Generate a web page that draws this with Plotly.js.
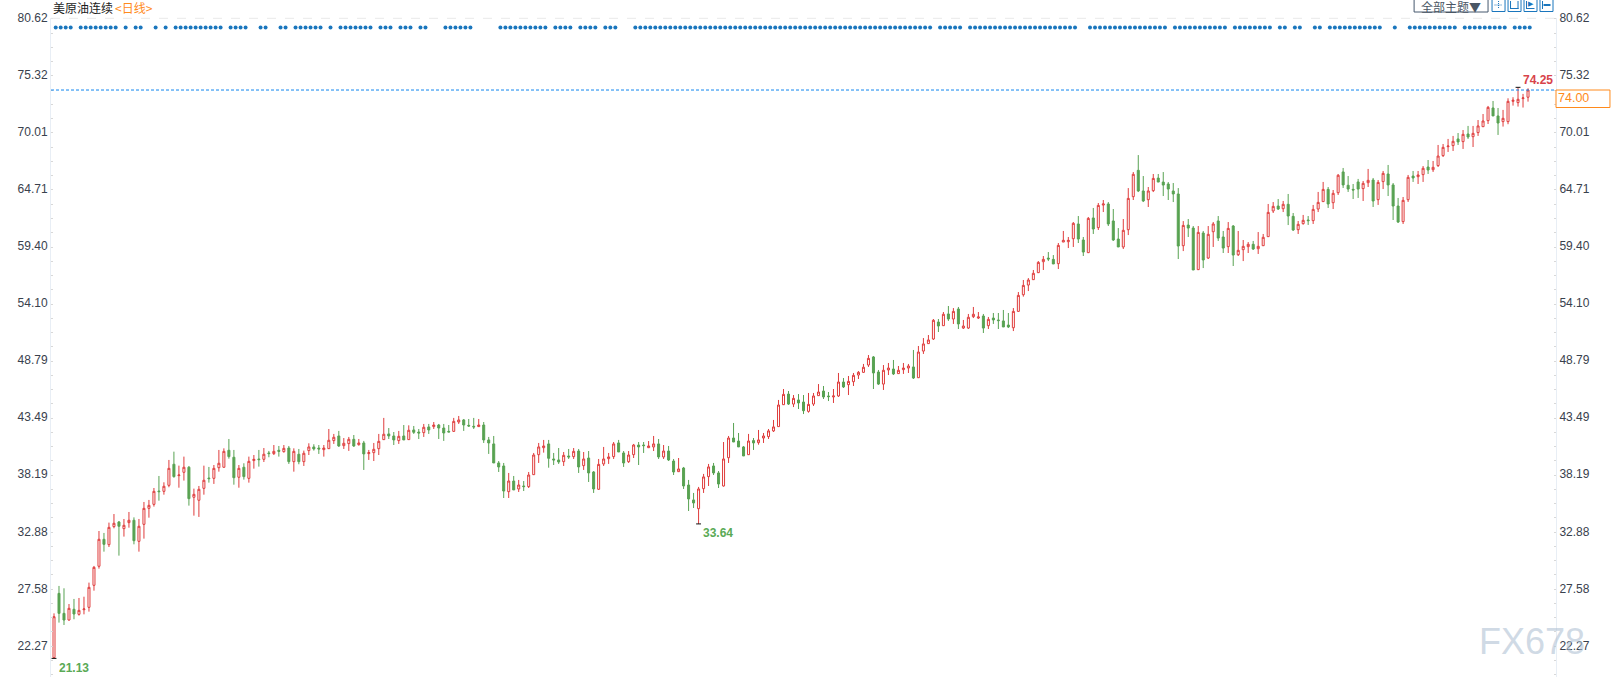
<!DOCTYPE html>
<html><head><meta charset="utf-8">
<script src="https://cdn.plot.ly/plotly-3.0.1.min.js"></script>
<style>html,body{margin:0;padding:0;background:#fff}#chart{width:1611px;height:677px}</style>
</head><body><div id="chart"></div>
<script>
const openPrices = [
21.20,27.18,25.32,24.70,25.70,25.23,25.66,25.88,27.93,29.70,
32.21,31.71,33.39,33.82,33.20,33.76,33.98,32.02,33.60,35.09,
35.46,36.70,36.67,37.23,39.19,38.13,38.44,38.91,36.12,35.84,
36.95,37.91,37.88,38.87,38.91,40.49,39.84,37.98,38.91,37.88,
39.53,39.68,39.65,40.24,40.18,40.49,40.36,40.70,39.43,40.12,
39.43,40.46,40.80,40.70,40.55,40.64,41.39,41.82,40.92,41.11,
41.51,41.01,41.17,40.18,40.27,40.64,41.48,42.01,41.82,41.39,
41.82,41.48,42.38,42.19,42.13,42.66,42.69,42.84,42.56,42.25,
42.25,43.12,43.31,42.81,42.72,42.69,42.84,41.45,41.08,39.31,
39.03,36.64,37.63,36.89,37.17,37.11,38.22,40.08,40.73,41.08,
39.68,39.59,39.43,39.96,39.90,40.42,39.06,39.77,38.47,36.86,
39.22,39.71,39.90,41.17,40.24,39.43,40.08,40.98,40.98,40.73,
40.80,41.08,39.87,40.42,39.49,38.50,38.84,37.26,35.87,35.06,
36.92,38.04,39.03,38.38,37.17,39.80,41.63,41.35,40.80,40.08,
41.39,41.20,41.63,41.76,42.29,42.69,44.73,45.72,44.79,45.17,
44.98,44.11,44.79,45.57,46.00,45.54,45.45,45.54,46.84,46.59,
46.87,47.49,47.74,48.42,49.17,47.77,46.65,47.96,48.05,47.62,
47.99,48.14,48.24,47.24,49.72,50.41,50.84,52.42,52.08,53.17,
52.70,53.63,51.86,51.86,52.92,52.79,52.98,52.08,52.79,52.61,
52.52,52.14,51.89,53.41,54.96,55.86,56.36,57.01,58.03,58.37,
58.25,57.85,59.86,59.89,60.17,61.54,60.05,58.87,62.10,61.20,
63.30,63.40,61.82,60.14,59.40,61.01,64.08,66.53,64.61,63.80,
64.64,65.81,65.44,65.26,64.61,64.33,59.52,61.44,61.16,57.29,
60.70,58.37,60.82,61.82,60.33,59.43,61.35,58.68,59.15,59.43,
59.65,59.24,59.52,60.36,62.75,63.21,62.96,63.37,62.25,61.01,
61.57,61.91,61.85,62.93,63.62,64.76,63.52,64.45,66.38,65.14,
64.76,65.45,64.83,65.38,65.63,63.80,65.48,66.19,65.17,63.21,
61.76,63.80,66.00,65.94,66.13,66.84,66.59,66.97,67.90,68.73,
68.83,69.45,69.20,69.91,69.66,70.04,70.59,71.15,72.33,71.59,
71.06,71.06,72.95,72.83,73.20,73.33];
const closePrices = [
25.01,25.32,24.70,25.79,25.26,25.60,25.73,27.74,29.60,32.21,
31.74,33.32,33.70,33.42,33.51,33.98,32.08,33.42,35.09,35.37,
36.67,36.64,37.14,38.81,38.04,38.19,38.91,35.99,36.39,36.86,
37.70,37.85,38.81,39.28,40.39,39.90,37.94,38.81,38.04,39.46,
39.65,39.62,40.12,40.18,40.39,40.39,40.67,39.43,40.39,39.43,
40.21,40.80,40.61,40.61,40.70,41.42,41.70,40.89,41.14,41.51,
40.89,41.17,40.15,40.27,40.58,41.32,41.98,41.82,41.45,41.79,
41.45,42.35,42.16,42.10,42.63,42.38,42.84,42.56,42.10,42.19,
43.18,43.31,42.84,42.75,42.66,42.84,41.45,41.17,39.31,38.94,
36.70,37.63,36.80,37.26,37.11,38.19,40.05,40.80,40.89,39.74,
39.59,39.40,40.02,39.87,40.39,38.94,39.68,38.38,36.89,39.18,
39.68,39.87,41.08,40.33,39.31,40.05,40.98,40.80,40.92,40.89,
41.08,39.87,40.42,39.59,38.47,38.75,37.17,35.96,35.59,36.89,
38.01,38.94,38.38,37.35,39.68,41.63,41.26,40.80,39.96,41.35,
41.17,41.45,41.82,42.29,42.66,44.70,45.69,44.79,45.32,44.89,
44.17,44.76,45.54,45.91,45.45,45.48,45.54,46.84,46.38,46.90,
47.46,47.74,48.21,49.04,47.68,46.65,47.93,48.14,47.59,47.93,
48.14,48.33,47.21,49.63,50.38,50.75,52.58,52.05,53.14,52.70,
53.41,52.24,52.05,52.86,53.14,52.89,51.86,52.67,52.61,52.55,
51.96,51.96,53.41,54.90,55.83,56.33,56.95,57.97,58.25,58.28,
57.82,59.55,60.02,60.02,61.60,60.14,58.93,62.06,61.07,63.27,
63.40,61.54,60.05,59.40,60.95,63.92,66.16,64.61,63.68,64.61,
65.78,65.44,65.16,64.79,64.33,59.49,61.41,61.16,57.26,60.76,
58.19,60.58,61.54,60.23,59.30,61.13,58.65,59.09,59.46,59.65,
59.21,59.46,60.30,62.62,63.18,62.93,63.37,62.28,60.98,61.51,
61.88,61.85,62.90,63.55,64.76,63.40,64.39,66.07,65.17,64.79,
64.70,64.79,65.32,65.60,63.68,65.41,66.25,65.17,63.21,61.72,
63.74,65.88,65.82,66.10,66.72,66.56,66.81,67.86,68.67,68.79,
69.23,69.17,69.88,69.63,69.97,70.66,71.12,72.39,71.59,70.93,
71.37,72.95,73.05,73.14,73.27,74.00];
const highPrices = [
25.32,27.87,27.65,26.19,26.66,26.75,26.87,28.18,29.73,32.98,
32.80,33.76,34.56,33.91,34.10,34.75,34.25,34.10,35.68,35.87,
36.98,38.10,37.51,39.59,40.36,39.06,39.90,39.03,36.92,37.17,
39.06,38.94,39.12,40.52,40.67,41.54,40.52,39.12,39.28,39.90,
40.05,40.52,40.70,40.43,40.98,40.89,40.98,40.89,40.67,40.61,
40.46,41.14,41.05,40.98,40.98,42.47,42.01,42.29,41.63,41.73,
41.91,41.54,41.36,40.52,41.17,42.01,43.50,42.56,42.19,42.29,
42.84,42.81,42.75,42.47,42.94,42.94,43.12,42.94,42.94,42.84,
43.50,43.68,43.40,43.40,43.50,43.40,43.12,41.73,41.82,39.49,
39.31,38.38,38.10,37.73,37.63,38.47,40.24,41.17,41.45,41.45,
40.24,40.70,40.33,40.61,40.70,40.61,40.33,40.42,38.56,39.68,
40.80,40.24,41.26,41.45,40.42,40.42,41.08,41.26,41.26,41.35,
41.82,41.54,40.98,40.89,39.68,39.77,38.94,37.73,36.52,37.08,
38.29,39.22,39.31,38.56,41.26,41.82,43.03,42.10,40.89,42.01,
41.63,42.38,42.10,42.47,43.31,45.17,46.19,46.00,45.63,45.72,
45.63,45.82,45.82,46.65,46.47,45.91,46.19,47.68,47.21,47.40,
47.68,47.86,48.52,49.35,49.26,47.96,48.42,48.61,48.89,48.33,
48.61,48.52,49.82,50.19,50.93,51.21,52.70,52.70,53.35,53.91,
53.72,53.82,52.61,53.17,53.82,53.35,53.17,52.89,53.26,53.26,
53.54,53.26,53.72,55.21,56.33,56.51,57.26,58.09,58.56,58.93,
58.65,59.77,60.89,60.33,61.72,62.28,60.33,62.19,63.03,63.49,
63.77,63.58,62.93,61.16,62.00,64.88,66.37,67.95,66.00,64.98,
66.19,66.19,66.37,65.44,65.35,64.88,61.81,62.00,61.35,61.35,
60.89,61.35,61.72,62.28,60.89,61.72,61.44,60.89,60.05,59.86,
59.96,60.79,60.61,63.40,63.58,63.86,63.68,64.33,62.56,61.82,
62.38,62.28,63.31,64.52,65.45,64.98,64.70,66.19,66.75,66.00,
65.26,65.73,65.54,66.66,65.82,65.63,66.47,67.03,65.35,63.96,
64.05,66.10,66.47,66.47,66.93,67.49,67.40,68.89,68.98,69.45,
69.73,70.00,70.28,70.66,70.66,71.21,71.77,72.52,72.98,72.33,
72.15,73.23,73.33,74.25,73.64,74.16];
const lowPrices = [
21.13,24.46,24.24,24.64,24.77,25.11,25.23,25.48,27.43,29.48,
31.06,31.49,33.23,30.69,32.46,33.29,31.74,31.06,32.27,34.22,
35.25,35.80,36.36,37.05,37.94,37.01,37.67,35.34,34.41,34.29,
36.36,37.48,37.36,38.50,38.87,39.71,37.29,37.01,37.76,37.48,
38.78,38.97,39.40,39.84,40.05,39.90,40.27,39.22,38.50,39.19,
39.03,40.05,40.46,40.15,39.90,40.61,41.08,40.80,40.61,40.43,
40.80,40.92,38.66,39.59,39.49,40.05,41.45,41.54,40.98,41.08,
41.45,41.45,42.01,41.54,41.73,42.01,42.47,41.54,41.36,42.19,
42.19,42.94,42.29,42.66,42.47,42.66,41.17,40.15,39.31,38.47,
36.05,36.05,36.80,36.61,36.70,36.98,38.19,39.31,40.27,38.87,
39.12,39.22,39.03,39.68,39.68,38.38,38.66,37.54,36.52,36.80,
39.03,39.22,39.68,40.33,38.94,39.31,39.77,39.12,40.24,40.70,
40.42,39.68,39.68,39.49,38.19,38.47,36.89,34.84,35.12,33.64,
36.52,37.17,38.19,36.98,37.11,39.31,41.26,40.80,39.96,40.05,
40.52,41.01,41.17,41.54,42.19,42.69,44.70,44.70,44.51,44.33,
43.86,43.99,44.61,45.54,45.26,45.07,44.89,45.45,46.28,45.63,
46.47,47.12,47.68,48.24,46.19,46.56,46.10,47.49,47.49,47.59,
47.59,47.68,47.12,47.21,49.45,50.38,50.75,51.49,52.05,52.52,
52.24,51.77,51.77,51.77,52.79,52.70,51.40,51.77,52.24,51.77,
51.96,51.86,51.58,53.38,54.78,55.30,56.33,56.98,57.26,58.09,
57.82,57.35,59.86,59.30,59.40,59.77,58.56,58.84,60.61,60.98,
62.65,61.35,59.96,59.40,59.21,60.51,63.77,64.51,63.58,63.12,
64.51,65.44,64.14,63.77,63.58,58.28,59.02,60.33,57.26,57.26,
57.44,58.28,59.40,59.96,58.84,58.84,57.63,58.56,58.09,58.84,
59.12,58.75,59.49,60.33,62.56,62.84,62.65,61.44,60.89,60.61,
61.48,61.45,61.54,62.65,63.59,63.03,62.93,64.24,64.89,64.52,
63.86,63.96,63.68,64.98,63.12,63.31,64.79,64.14,61.91,61.63,
61.54,63.59,65.45,65.26,65.45,66.19,66.38,66.84,67.77,68.24,
68.33,68.89,68.52,69.45,68.70,69.73,70.56,70.84,71.59,69.82,
70.60,70.82,72.55,72.46,72.37,72.92];
const tickLabels = ["80.62","75.32","70.01","64.71","59.40","54.10","48.79","43.49","38.19","32.88","27.58","22.27"];
const tickValues = tickLabels.map(Number);
const signalRuns = [[0,3],[5,12],[14,14],[16,17],[20,20],[22,22],[24,33],[35,38],[41,42],[45,46],[48,53],[55,55],[57,63],[65,67],[69,71],[73,74],[78,83],[89,98],[100,103],[105,108],[110,112],[116,175],[177,181],[183,204],[207,222],[224,234],[236,243],[245,246],[248,249],[252,253],[255,265],[268,268],[271,280],[282,290],[292,295]];
const signalLevel = 79.82;
const lastPrice = 74.00;
const maxIndex = 293, minIndex = 129, firstIndex = 0;

const RED = '#df3c3c', GREEN = '#58a252', BLUE = '#1a76bd', ORANGE = '#ff8a1c';
const W = 1611, H = 677, L = 50.5, R = 54.5, T = 18, B = 0;
const xp = px => (px - L) / (W - L - R);
const yp = py => 1 - (py - T) / (H - T - B);

const days = openPrices.map((_, i) => i);
const signalX = [];
signalRuns.forEach(([a, b]) => { for (let i = a; i <= b; i++) signalX.push(i + 0.34); });

const rectP = (x0, y0, x1, y1, line, fill) => ({type:'rect', xref:'paper', yref:'paper', x0:xp(x0), x1:xp(x1), y0:yp(y0), y1:yp(y1), line:{color:line, width:1}, fillcolor:fill || 'rgba(0,0,0,0)', layer:'above'});
const lineP = (x0, y0, x1, y1, color, width, dash) => ({type:'line', xref:'paper', yref:'paper', x0:xp(x0), x1:xp(x1), y0:yp(y0), y1:yp(y1), line:{color, width:width || 1, dash:dash || 'solid'}, layer:'above'});
const noteP = (px, py, text, color, size, anchor, family, weight) => ({xref:'paper', yref:'paper', x:xp(px), y:yp(py), text, showarrow:false, xanchor:anchor || 'left', yanchor:'middle', font:{family:family || 'Liberation Sans, Arial', size, color, weight: weight || 400}, borderpad:0});
const mark = (i, v, text, color, xs, ys) => ({x:i, y:v, xref:'x', yref:'y', text:'<b>' + text + '</b>', showarrow:false, xanchor:'left', yanchor:'middle', xshift:xs, yshift:ys, font:{family:'Liberation Sans, Arial', size:12, color}});

const traces = [
  {type:'candlestick', x:days, open:openPrices, high:highPrices, low:lowPrices, close:closePrices,
   increasing:{line:{color:RED, width:1}, fillcolor:'#ffffff'},
   decreasing:{line:{color:GREEN, width:1}, fillcolor:GREEN},
   whiskerwidth:0, hoverinfo:'skip', xaxis:'x', yaxis:'y', showlegend:false},
  {type:'scatter', mode:'markers', x:signalX, y:signalX.map(() => signalLevel),
   marker:{symbol:'circle', size:4, color:BLUE}, hoverinfo:'skip', xaxis:'x', yaxis:'y2', showlegend:false},
  {type:'scatter', mode:'markers',
   x:[firstIndex, minIndex, maxIndex], y:[lowPrices[firstIndex], lowPrices[minIndex], highPrices[maxIndex]],
   marker:{symbol:'line-ew', size:3.5, line:{color:'#111', width:1}}, hoverinfo:'skip', xaxis:'x', yaxis:'y', showlegend:false}
];

const yBase = {
  range:[19.40, 80.70], tickmode:'array', tickvals:tickValues.map(v => v + 0.07), ticktext:tickLabels,
  showgrid:false, zeroline:false, showline:true, linecolor:'#e8eef5', linewidth:1, ticks:'',
  tickfont:{family:'Liberation Sans, Arial', size:12, color:'#39414d'},
  minor:{tickmode:'linear', tick0:22.27, dtick:1.326, ticks:'inside', ticklen:2, tickcolor:'#d8d8d8', tickwidth:1, showgrid:false}
};

const layout = {
  width:W, height:H, margin:{l:L, r:R, t:T, b:B, pad:0}, autosize:false, boxgap:0.6, boxgroupgap:0,
  paper_bgcolor:'#fff', plot_bgcolor:'#fff', showlegend:false, hovermode:false, dragmode:false,
  xaxis:{range:[-0.6, 300.6], type:'linear', showgrid:false, zeroline:false, showticklabels:false, ticks:'', showline:false, rangeslider:{visible:false}},
  yaxis:Object.assign({}, yBase, {side:'left', anchor:'x'}),
  yaxis2:Object.assign({}, yBase, {side:'right', overlaying:'y', anchor:'x'}),
  shapes:[
    lineP(L, 18.3, W - R, 18.3, '#e9e9e9', 1, 'dash'),
    {type:'line', xref:'paper', yref:'y', x0:0, x1:1, y0:lastPrice, y1:lastPrice, line:{color:'#0f86f0', width:1, dash:'3px,2px'}, layer:'above'},
    rectP(1556.5, 90, 1610.5, 107.5, ORANGE, '#fff'),
    rectP(1414.5, -2, 1488.5, 12, '#46586e', '#fff'),
    rectP(1492.5, -2, 1505.5, 11.5, BLUE), rectP(1508.5, -2, 1521.5, 11.5, BLUE),
    rectP(1524.5, -2, 1537.5, 11.5, BLUE), rectP(1540.5, -2, 1553.5, 11.5, BLUE),
    lineP(1495, 5, 1503, 5, BLUE, 1, '1px,1px'), lineP(1499, 1, 1499, 9, BLUE, 1, '1px,1px'),
    lineP(1511, 1, 1511, 9, BLUE), lineP(1518.5, 1, 1518.5, 9, BLUE), lineP(1511, 8.5, 1519, 8.5, BLUE),
    lineP(1527, 1, 1527, 9, BLUE), lineP(1527, 8.5, 1535, 8.5, BLUE),
    lineP(1543, 1, 1543, 9, BLUE), lineP(1544, 5, 1551, 5, BLUE, 2)
  ],
  annotations:[
    noteP(52, 7.5, '美原油连续', '#1c1c1c', 12, 'left', 'Noto Sans CJK SC'),
    noteP(113.5, 7.5, '&lt;日线&gt;', ORANGE, 12, 'left', 'Noto Sans CJK SC'),
    noteP(1451, 6, '全部主题▼', '#4a5664', 12, 'center', 'Noto Sans CJK SC'),
    noteP(1531, 4.5, '▶', BLUE, 7, 'center', 'DejaVu Sans'),
    noteP(1558, 98.5, lastPrice.toFixed(2), ORANGE, 12.5),
    mark(maxIndex, highPrices[maxIndex], highPrices[maxIndex].toFixed(2), '#d8434a', 3, 7.5),
    mark(minIndex, lowPrices[minIndex], lowPrices[minIndex].toFixed(2), '#5aaa55', 2.5, -9),
    mark(firstIndex, lowPrices[firstIndex], lowPrices[firstIndex].toFixed(2), '#5aaa55', 3, -9.5),
    noteP(1532, 641, 'FX678', 'rgba(176,194,212,0.6)', 36, 'center')
  ]
};
Plotly.newPlot('chart', traces, layout, {displayModeBar:false, staticPlot:true});
</script></body></html>
